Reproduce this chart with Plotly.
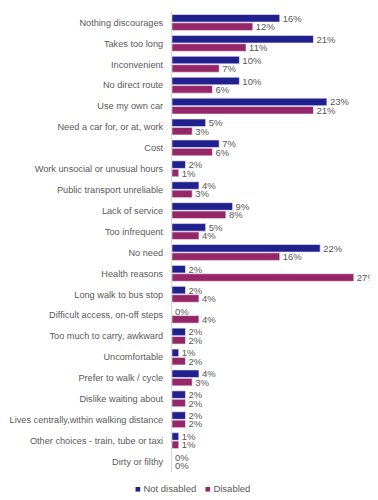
import plotly.graph_objects as go

categories = [
    "Nothing discourages", "Takes too long", "Inconvenient", "No direct route",
    "Use my own car", "Need a car for, or at, work", "Cost",
    "Work unsocial or unusual hours", "Public transport unreliable",
    "Lack of service", "Too infrequent", "No need", "Health reasons",
    "Long walk to bus stop", "Difficult access, on-off steps",
    "Too much to carry, awkward", "Uncomfortable", "Prefer to walk / cycle",
    "Dislike waiting about", "Lives centrally,within walking distance",
    "Other choices - train, tube or taxi", "Dirty or filthy",
]
not_disabled = [16, 21, 10, 10, 23, 5, 7, 2, 4, 9, 5, 22, 2, 2, 0, 2, 1, 4, 2, 2, 1, 0]
disabled = [12, 11, 7, 6, 21, 3, 6, 1, 3, 8, 4, 16, 27, 4, 4, 2, 2, 3, 2, 2, 1, 0]
series = [("Not disabled", not_disabled, "#21208F"), ("Disabled", disabled, "#952768")]

font = dict(family="Liberation Sans, Arial, sans-serif", size=9.5, color="#595959")
tick_font = dict(font, size=9.2)

fig = go.Figure()
for name, vals, col in series:
    fig.add_trace(go.Bar(
        y=categories, x=vals, name=name, orientation="h",
        marker=dict(color=col, line=dict(color="#ececf4", width=0.6)),
        texttemplate="%{x}%", textposition="outside", textfont=font,
        constraintext="none", cliponaxis=False,
    ))

# legend as two keyed labels under the plot (small square glyph + name)
legend_x = [-0.195, 0.155]
for (name, vals, col), lx in zip(series, legend_x):
    fig.add_annotation(
        xref="paper", yref="paper", x=lx, y=-0.035, xanchor="left", yanchor="middle",
        text=f"<span style='color:{col}'>■</span> {name}",
        showarrow=False, font=font,
    )

# the page adds an 8px body margin, so the figure is drawn 8px smaller
fig.update_layout(
    width=370, height=492,
    margin=dict(l=164, r=6, t=4, b=28, autoexpand=False),
    paper_bgcolor="white", plot_bgcolor="white",
    font=font,
    barmode="group", bargap=0.2, bargroupgap=0.1,
    showlegend=False,
    xaxis=dict(range=[0, 29.7], visible=False, showgrid=False),
    yaxis=dict(autorange="reversed", showline=True, linecolor="#d9d9d9",
               linewidth=1, ticks="", showgrid=False, tickfont=tick_font,
               automargin=False, ticklabelstandoff=6),
)

fig.write_html("out.html")
